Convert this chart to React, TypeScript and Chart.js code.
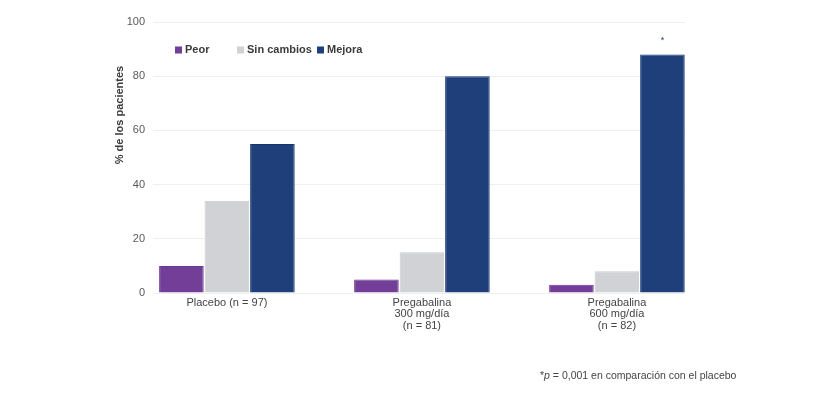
import React, { useEffect, useRef } from "react";
import { Chart, registerables } from "chart.js";

Chart.register(...registerables);

const CATEGORIES: string[][] = [
  ["Placebo (n = 97)"],
  ["Pregabalina", "300 mg/día", "(n = 81)"],
  ["Pregabalina", "600 mg/día", "(n = 82)"],
];
const SERIES_NAMES = ["Peor", "Sin cambios", "Mejora"];
const PEOR = [10, 5, 3];
const SIN_CAMBIOS = [34, 15, 8];
const MEJORA = [55, 80, 88];
const Y_TICKS = [0, 20, 40, 60, 80, 100];
const COLORS = ["#723e98", "#d1d2d6", "#1e3f7a"];
const BORDERS = ["#6a3790", "#c9cacf", "#173670"];
const SIGNIFICANT = [false, false, true];
const Y_TITLE = "% de los pacientes";
const FOOTNOTE_REST = " = 0,001 en comparación con el placebo";

const FONT = "Arial, 'Liberation Sans', sans-serif";

export default function App() {
  const ref = useRef<HTMLCanvasElement | null>(null);

  useEffect(() => {
    if (!ref.current) return;
    const seriesValues = [PEOR, SIN_CAMBIOS, MEJORA];

    const overlay = {
      id: "overlay",
      afterDraw(chart: any) {
        const { ctx, chartArea } = chart;
        ctx.save();
        // y title
        ctx.save();
        ctx.translate(chartArea.left - 33, chartArea.top + 93);
        ctx.rotate(-Math.PI / 2);
        ctx.font = `bold 11px ${FONT}`;
        ctx.fillStyle = "#3a3a3a";
        ctx.textAlign = "center";
        ctx.textBaseline = "middle";
        ctx.fillText(Y_TITLE, 0, 0);
        ctx.restore();

        // legend
        const offs = [22, 84, 164];
        ctx.font = `bold 11px ${FONT}`;
        ctx.textBaseline = "middle";
        ctx.textAlign = "left";
        SERIES_NAMES.forEach((name, i) => {
          const x = chartArea.left + offs[i];
          const y = chartArea.top + 28;
          ctx.fillStyle = COLORS[i];
          ctx.fillRect(x, y - 3.5, 7, 7);
          ctx.fillStyle = "#3a3a3a";
          ctx.fillText(name, x + 10, y);
        });

        // significance markers
        const meta = chart.getDatasetMeta(2);
        ctx.font = `9px ${FONT}`;
        ctx.fillStyle = COLORS[2];
        ctx.textAlign = "center";
        ctx.textBaseline = "middle";
        meta.data.forEach((el: any, i: number) => {
          if (SIGNIFICANT[i]) ctx.fillText("*", el.x, el.y - 14);
        });
        ctx.restore();
      },
    };

    const chart = new Chart(ref.current, {
      type: "bar",
      data: {
        datasets: SERIES_NAMES.map((name, s) => ({
          label: name,
          data: seriesValues[s].map((v, i) => ({ x: i, y: v })),
          backgroundColor: COLORS[s],
          borderColor: BORDERS[s],
          borderWidth: 1,
          barPercentage: 0.98,
          categoryPercentage: 0.7,
        })),
      },
      options: {
        responsive: false,
        animation: false,
        layout: { padding: { left: 110, right: 136, top: 22, bottom: 0 } },
        plugins: { legend: { display: false }, tooltip: { enabled: false } },
        scales: {
          x: {
            type: "linear",
            offset: false,
            min: -0.379,
            max: 2.349,
            grid: { display: false, drawTicks: false, offset: false },
            border: { display: false },
            afterBuildTicks: (scale: any) => {
              scale.ticks = CATEGORIES.map((_, i) => ({ value: i }));
            },
            afterFit: (scale: any) => {
              scale.height = 104;
            },
            ticks: {
              autoSkip: false,
              maxRotation: 0,
              padding: 4,
              color: "#444444",
              font: { family: FONT, size: 11, lineHeight: 1.05 },
              callback: (v: any) => CATEGORIES[Math.round(Number(v))],
            },
          },
          y: {
            min: 0,
            max: 100,
            afterBuildTicks: (scale: any) => {
              scale.ticks = Y_TICKS.map((v) => ({ value: v }));
            },
            afterFit: (scale: any) => {
              scale.width = 43;
            },
            grid: { color: "#efefef", lineWidth: 1, drawTicks: false },
            border: { display: false },
            ticks: {
              padding: 8,
              color: "#595959",
              font: { family: FONT, size: 11 },
            },
          },
        },
      },
      plugins: [overlay],
    } as any);

    return () => chart.destroy();
  }, []);

  return (
    <div style={{ position: "absolute", left: 0, top: 0, width: 821, height: 397, background: "#fff" }}>
      <canvas ref={ref} width={821} height={397} style={{ display: "block" }} />
      <div
        style={{
          position: "absolute",
          left: 540,
          top: 369,
          fontFamily: FONT,
          fontSize: 10.5,
          color: "#444",
          whiteSpace: "nowrap",
        }}
      >
        *<i>p</i>
        {FOOTNOTE_REST}
      </div>
    </div>
  );
}
